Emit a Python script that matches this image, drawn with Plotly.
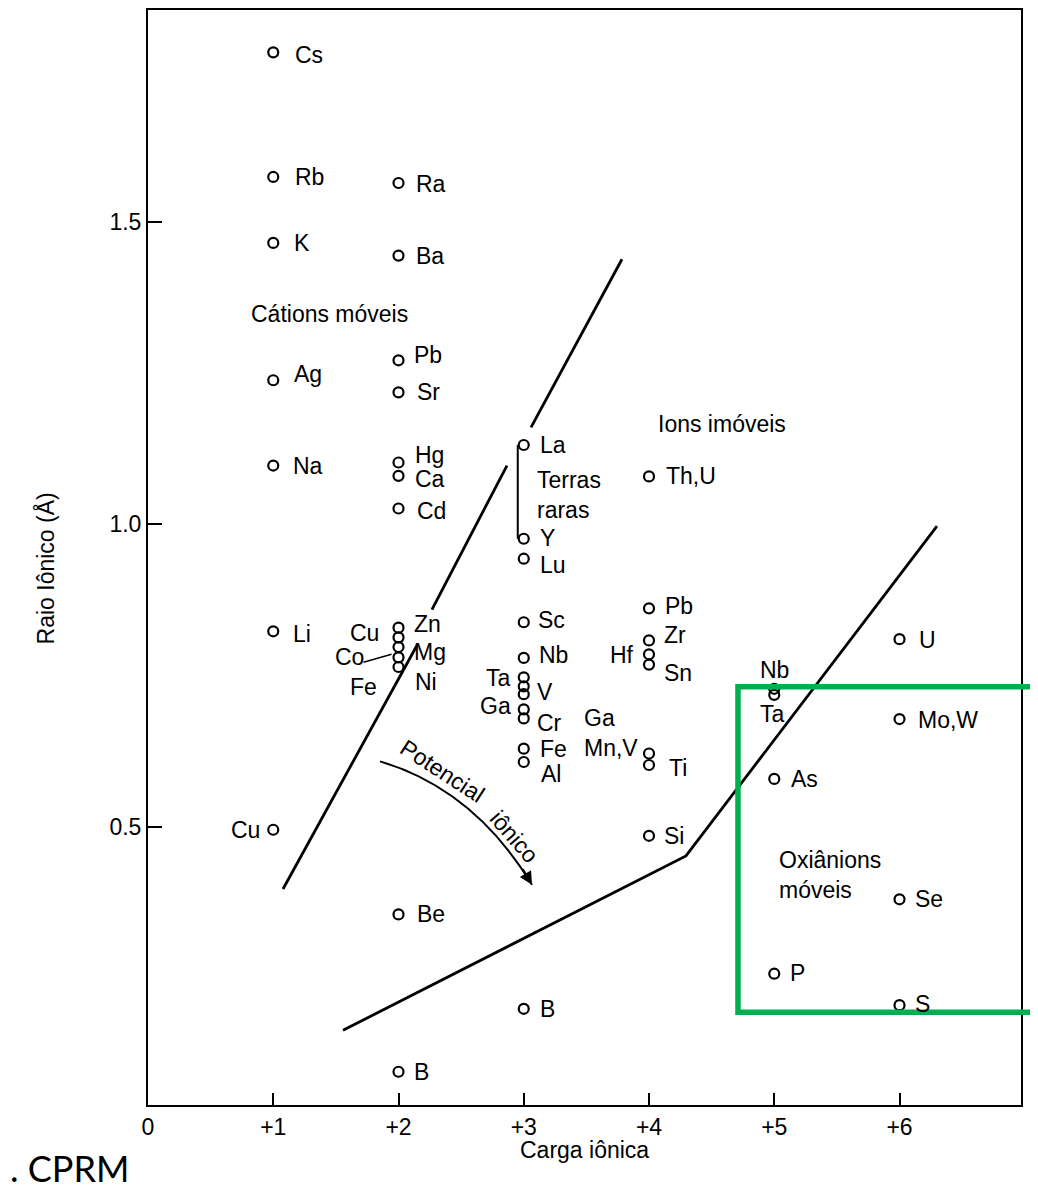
import plotly.graph_objects as go

# ---------------- data ----------------
charge = [1, 1, 1, 1, 1, 1, 1,
          2, 2, 2, 2, 2, 2, 2, 2, 2, 2, 2, 2, 2, 2,
          3, 3, 3, 3, 3, 3, 3, 3, 3, 3, 3, 3, 3,
          4, 4, 4, 4, 4, 4, 4, 4,
          5, 5, 5, 5,
          6, 6, 6, 6]
radius = [1.780, 1.574, 1.465, 1.238, 1.097, 0.823, 0.495,
          1.564, 1.444, 1.271, 1.218, 1.102, 1.080, 1.026, 0.829, 0.813, 0.797, 0.780, 0.764, 0.355, 0.095,
          1.131, 0.976, 0.943, 0.838, 0.779, 0.747, 0.732, 0.719, 0.694, 0.679, 0.629, 0.607, 0.199,
          1.079, 0.861, 0.808, 0.785, 0.768, 0.621, 0.602, 0.485,
          0.728, 0.718, 0.579, 0.257,
          0.810, 0.678, 0.380, 0.205]

# labels: text, index of point it belongs to
label_text = ["Cs", "Rb", "K", "Ag", "Na", "Li", "Cu",
              "Ra", "Ba", "Pb", "Sr", "Hg", "Ca", "Cd", "Zn", "Cu", "Mg", "Co", "Ni", "Fe", "Be", "B",
              "La", "Y", "Lu", "Sc", "Nb", "Ta", "V", "Ga", "Cr", "Fe", "Al", "B",
              "Th,U", "Pb", "Zr", "Hf", "Sn", "Ga<br>Mn,V", "Ti", "Si",
              "Nb", "Ta", "As", "P",
              "U", "Mo,W", "Se", "S"]
label_point = [0, 1, 2, 3, 4, 5, 6,
               7, 8, 9, 10, 11, 12, 13, 14, 15, 16, 17, 18, 18, 19, 20,
               21, 22, 23, 24, 25, 26, 28, 29, 30, 31, 32, 33,
               34, 35, 36, 37, 38, 39, 40, 41,
               42, 43, 44, 45,
               46, 47, 48, 49]

# region boundary lines (None = gap)
bound1_x = [1.078, 2.148, None, 2.267, 2.866, None, 3.058, 3.784]
bound1_y = [0.397, 0.800, None, 0.859, 1.097, None, 1.160, 1.438]
bound2_x = [1.557, 4.295, 6.299]
bound2_y = [0.1635, 0.4517, 0.997]

# field texts
region_text = ["Cátions móveis", "Ions imóveis", "Terras<br>raras", "Oxiânions<br>móveis"]
region_x = [1.446, 4.583, 3.090, 5.02]
region_y = [1.347, 1.166, 1.048, 0.421]

# "Potencial iônico" arrow (quadratic curve: start, control, end)
arrow_x = [1.852, 2.603, 3.066]
arrow_y = [0.608, 0.562, 0.404]

xtick_vals = [0, 1, 2, 3, 4, 5, 6]
xtick_text = ["0", "+1", "+2", "+3", "+4", "+5", "+6"]
ytick_vals = [0.5, 1.0, 1.5]
ytick_text = ["0.5", "1.0", "1.5"]

# ---------------- label placement (pixels) ----------------
# (anchor, dx, dy_down)
label_place = [("L", 22, 3), ("L", 22, 0), ("L", 21, 0), ("L", 21, -6), ("L", 20, 0), ("L", 20, 3), ("R", -13, 0),
               ("L", 17, 1), ("L", 17, 0), ("L", 15, -5), ("L", 18, 0), ("L", 16, -8), ("L", 16, 3), ("L", 18, 2),
               ("L", 15, -4), ("R", -20, -4), ("L", 15, 5), ("R", -35, 0), ("L", 16, 15), ("R", -22, 20),
               ("L", 18, 0), ("L", 15, 0),
               ("L", 16, 0), ("L", 16, -1), ("L", 16, 6), ("L", 14, -2), ("L", 15, -3), ("R", -13, 1),
               ("L", 13, -2), ("R", -13, -3), ("L", 13, 5), ("L", 16, 0), ("L", 17, 12), ("L", 16, 0),
               ("L", 17, 0), ("L", 16, -2), ("L", 15, -5), ("R", -15, 1), ("L", 15, 8), ("R", -11, -21),
               ("L", 20, 3), ("L", 15, 0),
               ("C", 0, -19), ("C", -2, 19), ("L", 17, 0), ("L", 16, -1),
               ("L", 19, 1), ("L", 18, 1), ("L", 15, 0), ("L", 15, -1)]

FONT = "Liberation Sans, Arial, sans-serif"
LBL = 23

fig = go.Figure()

fig.add_trace(go.Scatter(x=bound1_x, y=bound1_y, mode="lines",
                         line=dict(color="black", width=2.8), hoverinfo="skip", showlegend=False))
fig.add_trace(go.Scatter(x=bound2_x, y=bound2_y, mode="lines",
                         line=dict(color="black", width=2.8), hoverinfo="skip", showlegend=False))
fig.add_trace(go.Scatter(x=charge, y=radius, mode="markers",
                         marker=dict(symbol="circle-open", size=10, color="black", line=dict(width=2.2)),
                         showlegend=False))

annotations = []
for t, p, (anc, dx, dy) in zip(label_text, label_point, label_place):
    xa = {"L": "left", "R": "right", "C": "center"}[anc]
    sx = dx - 2 if anc == "L" else (dx + 2 if anc == "R" else dx)
    annotations.append(dict(x=charge[p], y=radius[p], xref="x", yref="y", text=t,
                            showarrow=False, xanchor=xa, yanchor="middle",
                            xshift=sx, yshift=-dy, align="left",
                            font=dict(family=FONT, size=LBL, color="black")))

for t, x, y in zip(region_text, region_x, region_y):
    annotations.append(dict(x=x, y=y, xref="x", yref="y", text=t, showarrow=False,
                            xanchor="left" if "<br>" in t else "center", yanchor="middle", align="left",
                            font=dict(family=FONT, size=LBL, color="black")))

# curved arrow text
annotations.append(dict(x=2.35, y=0.592, xref="x", yref="y", text="Potencial", showarrow=False,
                        textangle=33, font=dict(family=FONT, size=LBL, color="black")))
annotations.append(dict(x=2.925, y=0.483, xref="x", yref="y", text="iônico", showarrow=False,
                        textangle=49, font=dict(family=FONT, size=LBL, color="black")))
# arrowhead
annotations.append(dict(x=arrow_x[2], y=arrow_y[2], xref="x", yref="y", text="", showarrow=True,
                        ax=-10, ay=-17, arrowhead=2, arrowsize=1.3, arrowwidth=2, arrowcolor="black"))

# axis titles
annotations.append(dict(x=0.5, y=-0.041, xref="paper", yref="paper", text="Carga iônica",
                        showarrow=False, xanchor="center", yanchor="middle",
                        font=dict(family=FONT, size=23, color="black")))
annotations.append(dict(x=-0.118, y=0.49, xref="paper", yref="paper", text="Raio Iônico (Å)",
                        showarrow=False, xanchor="center", yanchor="middle", textangle=-90,
                        font=dict(family=FONT, size=23, color="black")))
# source text
annotations.append(dict(x=-0.1604, y=-0.0574, xref="paper", yref="paper", text=". CPRM",
                        showarrow=False, xanchor="left", yanchor="middle",
                        font=dict(family="Lato, sans-serif", size=36, color="black")))

shapes = []
# curved arrow path
shapes.append(dict(type="path", xref="x", yref="y",
                   path=f"M {arrow_x[0]},{arrow_y[0]} Q {arrow_x[1]},{arrow_y[1]} {arrow_x[2]},{arrow_y[2]}",
                   line=dict(color="black", width=2)))
# rare earth bracket (La to Y)
shapes.append(dict(type="line", xref="x", yref="y", xsizemode="pixel", xanchor=3,
                   x0=-6, x1=-6, y0=radius[21], y1=radius[22], line=dict(color="black", width=2)))
# Co leader line
shapes.append(dict(type="line", xref="x", yref="y", xsizemode="pixel", ysizemode="pixel",
                   xanchor=2, yanchor=radius[17], x0=-35, x1=-7, y0=-5, y1=3,
                   line=dict(color="black", width=1.5)))
# green highlight box
shapes.append(dict(type="rect", xref="paper", yref="paper", x0=0.6758, x1=1.0137, y0=0.0848, y1=0.382,
                   line=dict(color="#00B050", width=5.5), fillcolor="rgba(0,0,0,0)", layer="above"))

fig.update_layout(
    width=1030, height=1184,
    margin=dict(l=140, r=17, t=0, b=87),
    plot_bgcolor="white", paper_bgcolor="white",
    showlegend=False,
    annotations=annotations,
    shapes=shapes,
    xaxis=dict(range=[0, 6.97], showgrid=False, zeroline=False, showline=True, linecolor="black",
               linewidth=2, mirror=True, ticks="inside", ticklen=12, tickwidth=2, tickcolor="black",
               tickvals=xtick_vals, ticktext=xtick_text,
               tickfont=dict(family=FONT, size=23, color="black")),
    yaxis=dict(range=[0.04, 1.85], showgrid=False, zeroline=False, showline=True, linecolor="black",
               linewidth=2, mirror=True, ticks="inside", ticklen=14, tickwidth=2, tickcolor="black",
               tickvals=ytick_vals, ticktext=ytick_text,
               tickfont=dict(family=FONT, size=23, color="black")),
)

fig.write_html("out.html")
